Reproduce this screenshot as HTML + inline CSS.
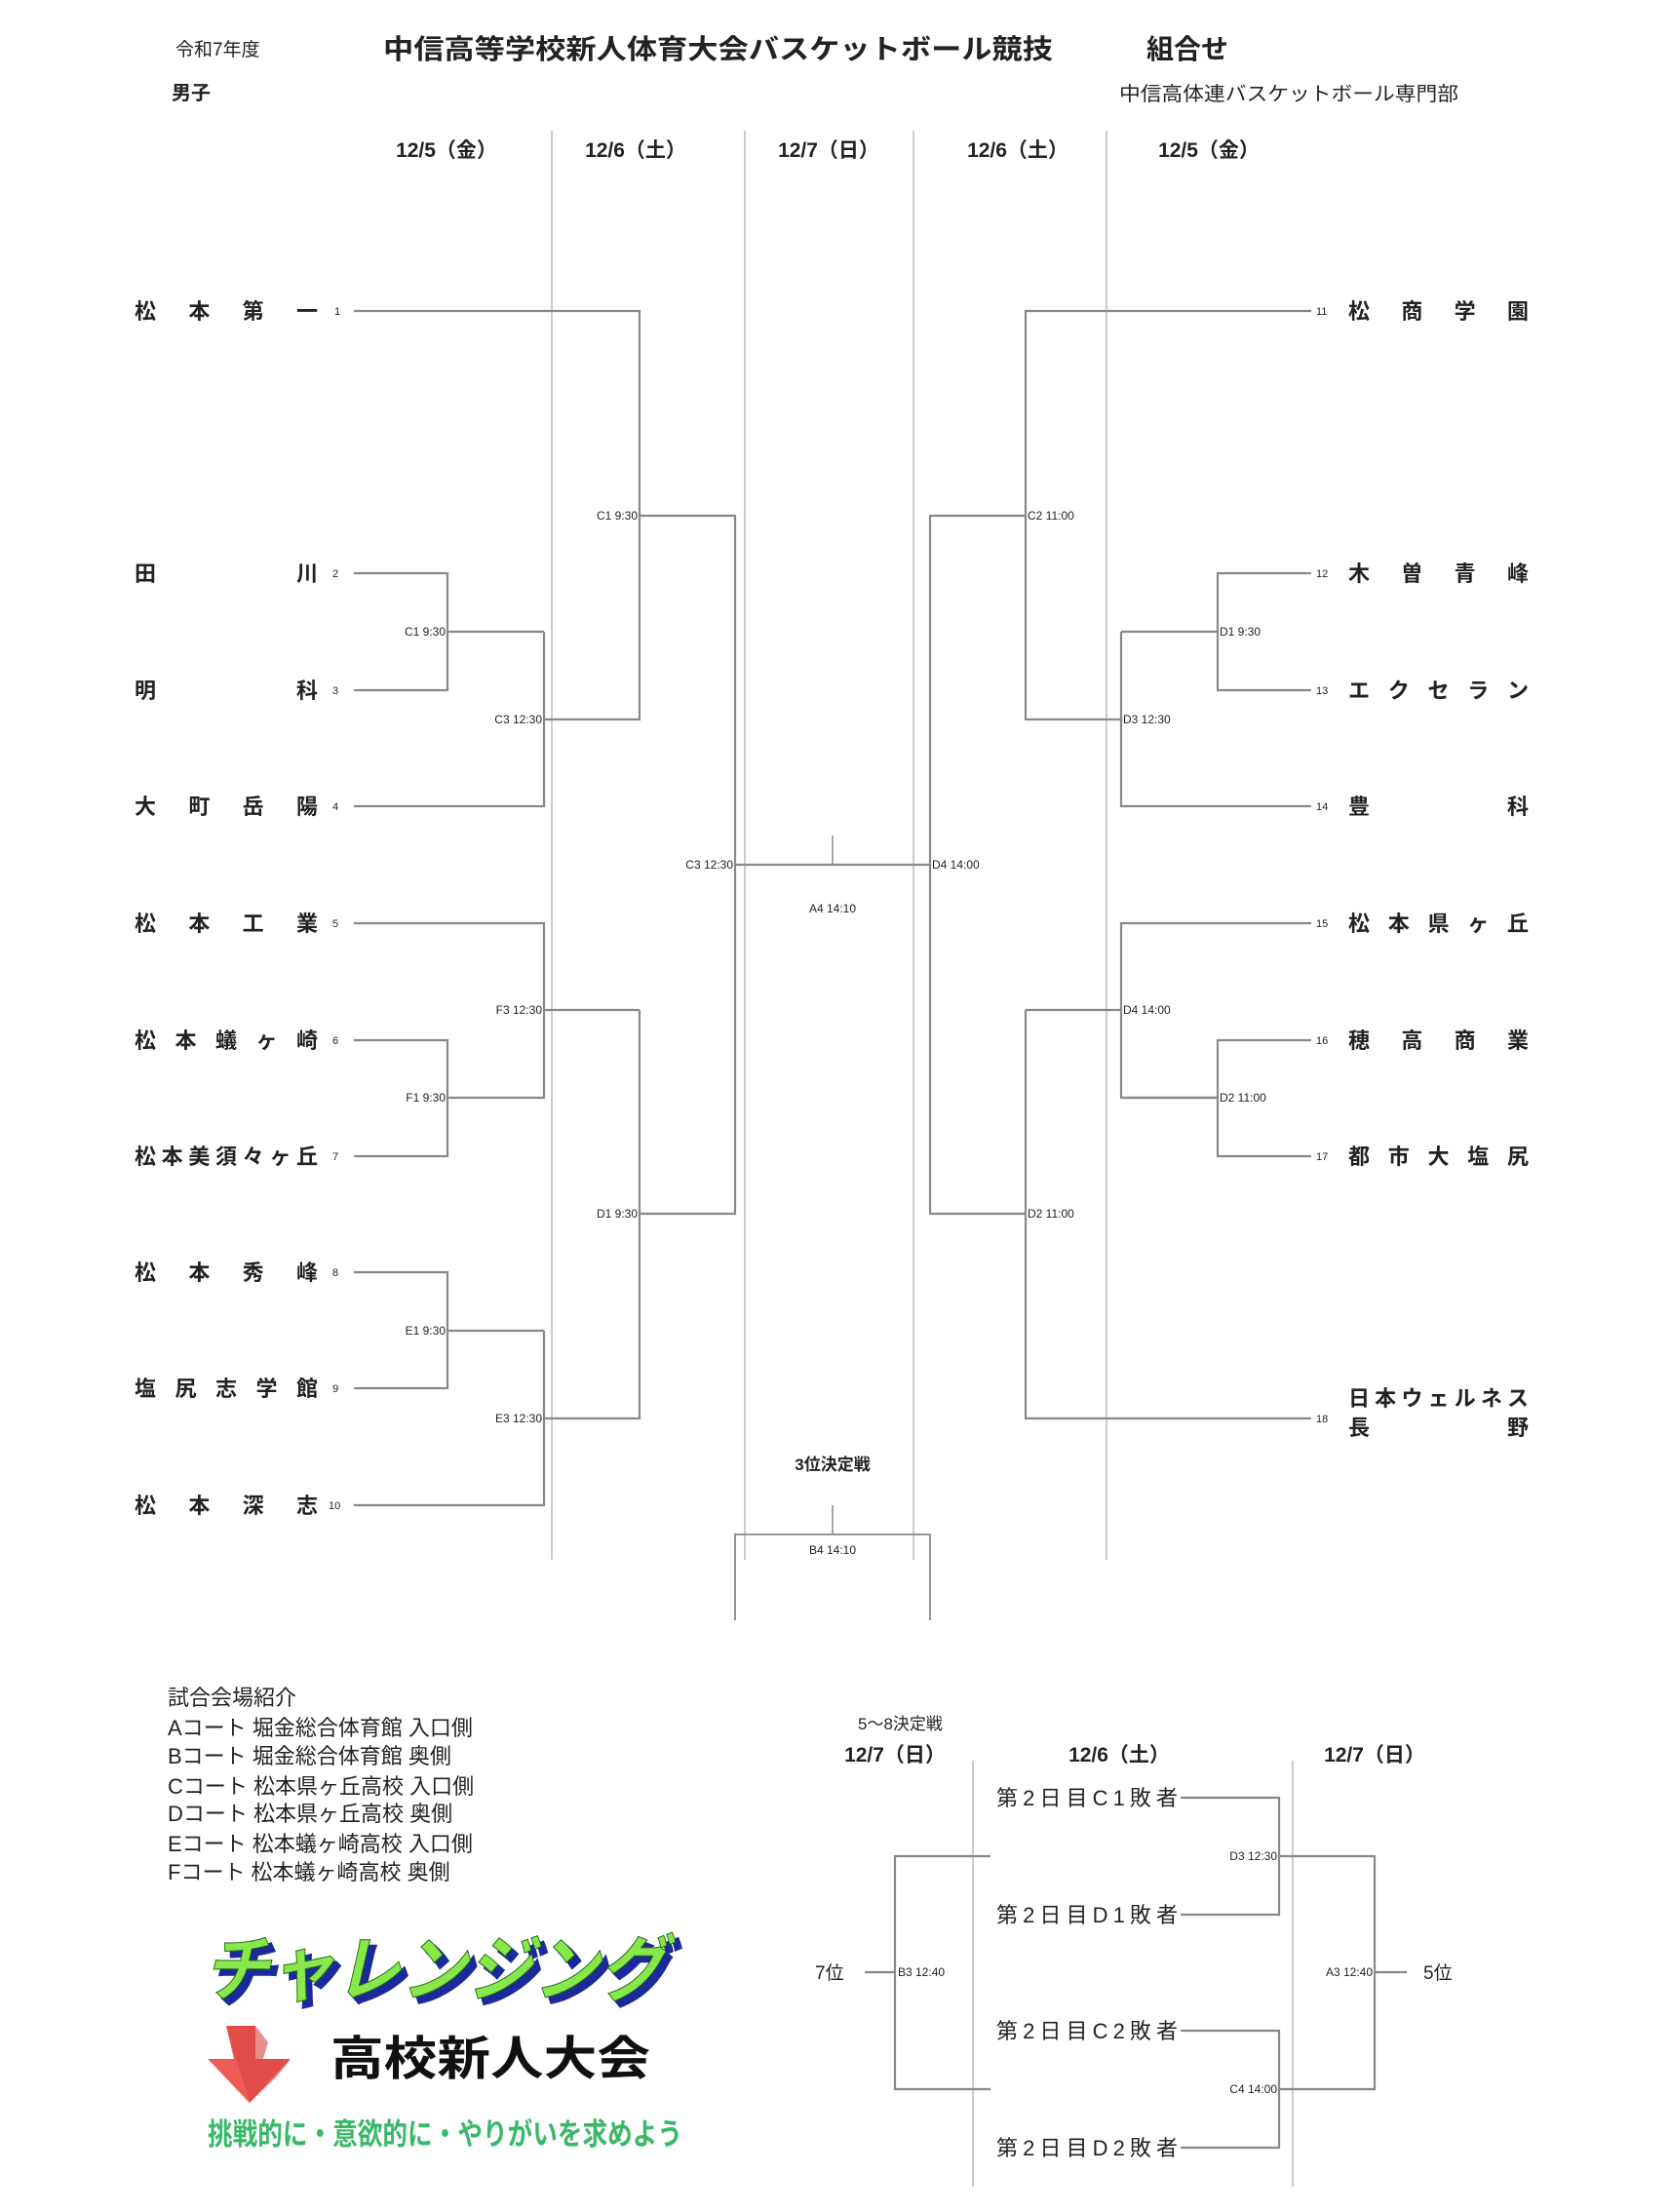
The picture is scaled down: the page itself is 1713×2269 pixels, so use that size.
<!DOCTYPE html>
<html><head><meta charset="utf-8"><style>
html,body{margin:0;padding:0;background:#fff;}
svg{display:block;}
text{font-family:"Liberation Sans","Noto Sans CJK JP",sans-serif;fill:#222;}
</style></head><body>
<svg width="1713" height="2269" viewBox="0 0 1713 2269" xmlns="http://www.w3.org/2000/svg">
<text x="180" y="57" font-size="19">令和7年度</text>
<text x="393" y="60" font-size="28" font-weight="bold" textLength="687" lengthAdjust="spacingAndGlyphs">中信高等学校新人体育大会バスケットボール競技</text>
<text x="1176" y="60" font-size="28" font-weight="bold">組合せ</text>
<text x="176" y="102" font-size="20" font-weight="bold">男子</text>
<text x="1148" y="103" font-size="20" textLength="348" lengthAdjust="spacingAndGlyphs">中信高体連バスケットボール専門部</text>
<g font-size="21" font-weight="bold" text-anchor="middle">
<text x="458" y="161">12/5（金）</text>
<text x="652" y="161">12/6（土）</text>
<text x="850" y="161">12/7（日）</text>
<text x="1044" y="161">12/6（土）</text>
<text x="1240" y="161">12/5（金）</text>
</g>
<g stroke="#bbb" stroke-width="1.5">
<line x1="566" y1="134" x2="566" y2="1600"/>
<line x1="764" y1="134" x2="764" y2="1600"/>
<line x1="937" y1="134" x2="937" y2="1600"/>
<line x1="1135" y1="134" x2="1135" y2="1600"/>
<line x1="998" y1="1806" x2="998" y2="2243"/>
<line x1="1326" y1="1806" x2="1326" y2="2243"/>
</g>
<g stroke="#888" stroke-width="2.2" fill="none">
<polyline points="363,319 656,319 656,738 558,738"/>
<polyline points="363,588 459,588 459,708 363,708"/>
<line x1="459" y1="648" x2="558" y2="648"/>
<polyline points="558,648 558,827 363,827"/>
<polyline points="656,529 754,529 754,1245 656,1245"/>
<polyline points="363,947 558,947 558,1126 459,1126"/>
<polyline points="363,1067 459,1067 459,1186 363,1186"/>
<line x1="558" y1="1036" x2="656" y2="1036"/>
<polyline points="656,1036 656,1455 558,1455"/>
<polyline points="363,1305 459,1305 459,1424 363,1424"/>
<line x1="459" y1="1365" x2="558" y2="1365"/>
<polyline points="558,1365 558,1544 363,1544"/>
<line x1="754" y1="887" x2="954" y2="887"/>
<line x1="854" y1="857" x2="854" y2="887" stroke-width="1.5"/>
<line x1="854" y1="1544" x2="854" y2="1574" stroke-width="1.5"/>
<polyline points="754,1662 754,1574 954,1574 954,1662" stroke-width="1.8"/>
<polyline points="1345,319 1052,319 1052,738 1150,738"/>
<polyline points="1345,588 1249,588 1249,708 1345,708"/>
<line x1="1249" y1="648" x2="1150" y2="648"/>
<polyline points="1150,648 1150,827 1345,827"/>
<polyline points="1052,529 954,529 954,1245 1052,1245"/>
<polyline points="1345,947 1150,947 1150,1126 1249,1126"/>
<polyline points="1345,1067 1249,1067 1249,1186 1345,1186"/>
<line x1="1249" y1="1126" x2="1150" y2="1126"/>
<line x1="1150" y1="1036" x2="1052" y2="1036"/>
<polyline points="1052,1036 1052,1455 1345,1455"/>
<polyline points="1211,1844 1312,1844 1312,1964 1211,1964"/>
<polyline points="1211,2083 1312,2083 1312,2203 1211,2203"/>
<polyline points="1312,1904 1410,1904 1410,2143 1312,2143"/>
<line x1="1410" y1="2023" x2="1443" y2="2023"/>
<polyline points="1016,1904 918,1904 918,2143 1016,2143"/>
<line x1="887" y1="2023" x2="918" y2="2023"/>
</g>
<g font-size="22" font-weight="bold">
<text x="138" y="327" textLength="188" lengthAdjust="spacing">松本第一</text>
<text x="138" y="596" textLength="188" lengthAdjust="spacing">田川</text>
<text x="138" y="716" textLength="188" lengthAdjust="spacing">明科</text>
<text x="138" y="835" textLength="188" lengthAdjust="spacing">大町岳陽</text>
<text x="138" y="955" textLength="188" lengthAdjust="spacing">松本工業</text>
<text x="138" y="1075" textLength="188" lengthAdjust="spacing">松本蟻ヶ崎</text>
<text x="138" y="1194" textLength="188" lengthAdjust="spacing">松本美須々ヶ丘</text>
<text x="138" y="1313" textLength="188" lengthAdjust="spacing">松本秀峰</text>
<text x="138" y="1432" textLength="188" lengthAdjust="spacing">塩尻志学館</text>
<text x="138" y="1552" textLength="188" lengthAdjust="spacing">松本深志</text>
<text x="1383" y="327" textLength="185" lengthAdjust="spacing">松商学園</text>
<text x="1383" y="596" textLength="185" lengthAdjust="spacing">木曽青峰</text>
<text x="1383" y="716" textLength="185" lengthAdjust="spacing">エクセラン</text>
<text x="1383" y="835" textLength="185" lengthAdjust="spacing">豊科</text>
<text x="1383" y="955" textLength="185" lengthAdjust="spacing">松本県ヶ丘</text>
<text x="1383" y="1075" textLength="185" lengthAdjust="spacing">穂高商業</text>
<text x="1383" y="1194" textLength="185" lengthAdjust="spacing">都市大塩尻</text>
<text x="1383" y="1442" textLength="185" lengthAdjust="spacing">日本ウェルネス</text>
<text x="1383" y="1472" textLength="185" lengthAdjust="spacing">長野</text>
</g>
<g font-size="11">
<text x="343" y="323">1</text><text x="341" y="592">2</text><text x="341" y="712">3</text><text x="341" y="831">4</text>
<text x="341" y="951">5</text><text x="341" y="1071">6</text><text x="341" y="1190">7</text><text x="341" y="1309">8</text>
<text x="341" y="1428">9</text><text x="337" y="1548">10</text>
<text x="1350" y="323">11</text><text x="1350" y="592">12</text><text x="1350" y="712">13</text><text x="1350" y="831">14</text>
<text x="1350" y="951">15</text><text x="1350" y="1071">16</text><text x="1350" y="1190">17</text><text x="1350" y="1459">18</text>
</g>
<g font-size="12" text-anchor="end">
<text x="457" y="652">C1 9:30</text>
<text x="556" y="742">C3 12:30</text>
<text x="654" y="533">C1 9:30</text>
<text x="752" y="891">C3 12:30</text>
<text x="457" y="1130">F1 9:30</text>
<text x="556" y="1040">F3 12:30</text>
<text x="457" y="1369">E1 9:30</text>
<text x="556" y="1459">E3 12:30</text>
<text x="654" y="1249">D1 9:30</text>
<text x="1310" y="1908">D3 12:30</text>
<text x="1310" y="2147">C4 14:00</text>
<text x="1408" y="2027">A3 12:40</text>
</g>
<g font-size="12">
<text x="1251" y="652">D1 9:30</text>
<text x="1152" y="742">D3 12:30</text>
<text x="1054" y="533">C2 11:00</text>
<text x="956" y="891">D4 14:00</text>
<text x="1251" y="1130">D2 11:00</text>
<text x="1152" y="1040">D4 14:00</text>
<text x="1054" y="1249">D2 11:00</text>
<text x="921" y="2027">B3 12:40</text>
</g>
<g font-size="12" text-anchor="middle">
<text x="854" y="936">A4 14:10</text>
<text x="854" y="1594">B4 14:10</text>
</g>
<text x="854" y="1508" font-size="17" font-weight="bold" text-anchor="middle">3位決定戦</text>
<g font-size="22">
<text x="172" y="1749">試合会場紹介</text>
<text x="172" y="1780">Aコート  堀金総合体育館 入口側</text>
<text x="172" y="1809">Bコート  堀金総合体育館 奥側</text>
<text x="172" y="1840">Cコート  松本県ヶ丘高校 入口側</text>
<text x="172" y="1868">Dコート  松本県ヶ丘高校 奥側</text>
<text x="172" y="1899">Eコート  松本蟻ヶ崎高校 入口側</text>
<text x="172" y="1928">Fコート  松本蟻ヶ崎高校 奥側</text>
</g>
<g font-size="74" font-weight="bold" font-style="italic">
<text x="214" y="2052" style="fill:#1a2a9a;stroke:#1a2a9a;stroke-width:2" textLength="474" lengthAdjust="spacingAndGlyphs">チャレンジング</text>
<text x="208" y="2046" style="fill:#86e84a;stroke:#2a6a10;stroke-width:1" textLength="474" lengthAdjust="spacingAndGlyphs">チャレンジング</text>
</g>
<polygon points="232,2078 262,2078 262,2112 298,2112 256,2157 213,2112 240,2112" fill="#ef5a55"/>
<polygon points="232,2078 262,2078 275,2095 270,2112 298,2112 284,2130 256,2157" fill="#d94440" opacity="0.6"/>
<text x="339" y="2128" font-size="48" font-weight="bold" style="fill:#111" textLength="328" lengthAdjust="spacingAndGlyphs">高校新人大会</text>
<text x="213" y="2200" font-size="31" font-weight="bold" style="fill:#3ab86a" textLength="487" lengthAdjust="spacingAndGlyphs">挑戦的に・意欲的に・やりがいを求めよう</text>
<text x="880" y="1774" font-size="17">5～8決定戦</text>
<g font-size="21" font-weight="bold" text-anchor="middle">
<text x="918" y="1807">12/7（日）</text>
<text x="1148" y="1807">12/6（土）</text>
<text x="1410" y="1807">12/7（日）</text>
</g>
<g font-size="22">
<text x="1022" y="1852" textLength="186" lengthAdjust="spacing">第2日目C1敗者</text>
<text x="1022" y="1972" textLength="186" lengthAdjust="spacing">第2日目D1敗者</text>
<text x="1022" y="2091" textLength="186" lengthAdjust="spacing">第2日目C2敗者</text>
<text x="1022" y="2211" textLength="186" lengthAdjust="spacing">第2日目D2敗者</text>
</g>
<text x="836" y="2030" font-size="19">7位</text>
<text x="1460" y="2030" font-size="19">5位</text>
</svg>
</body></html>
